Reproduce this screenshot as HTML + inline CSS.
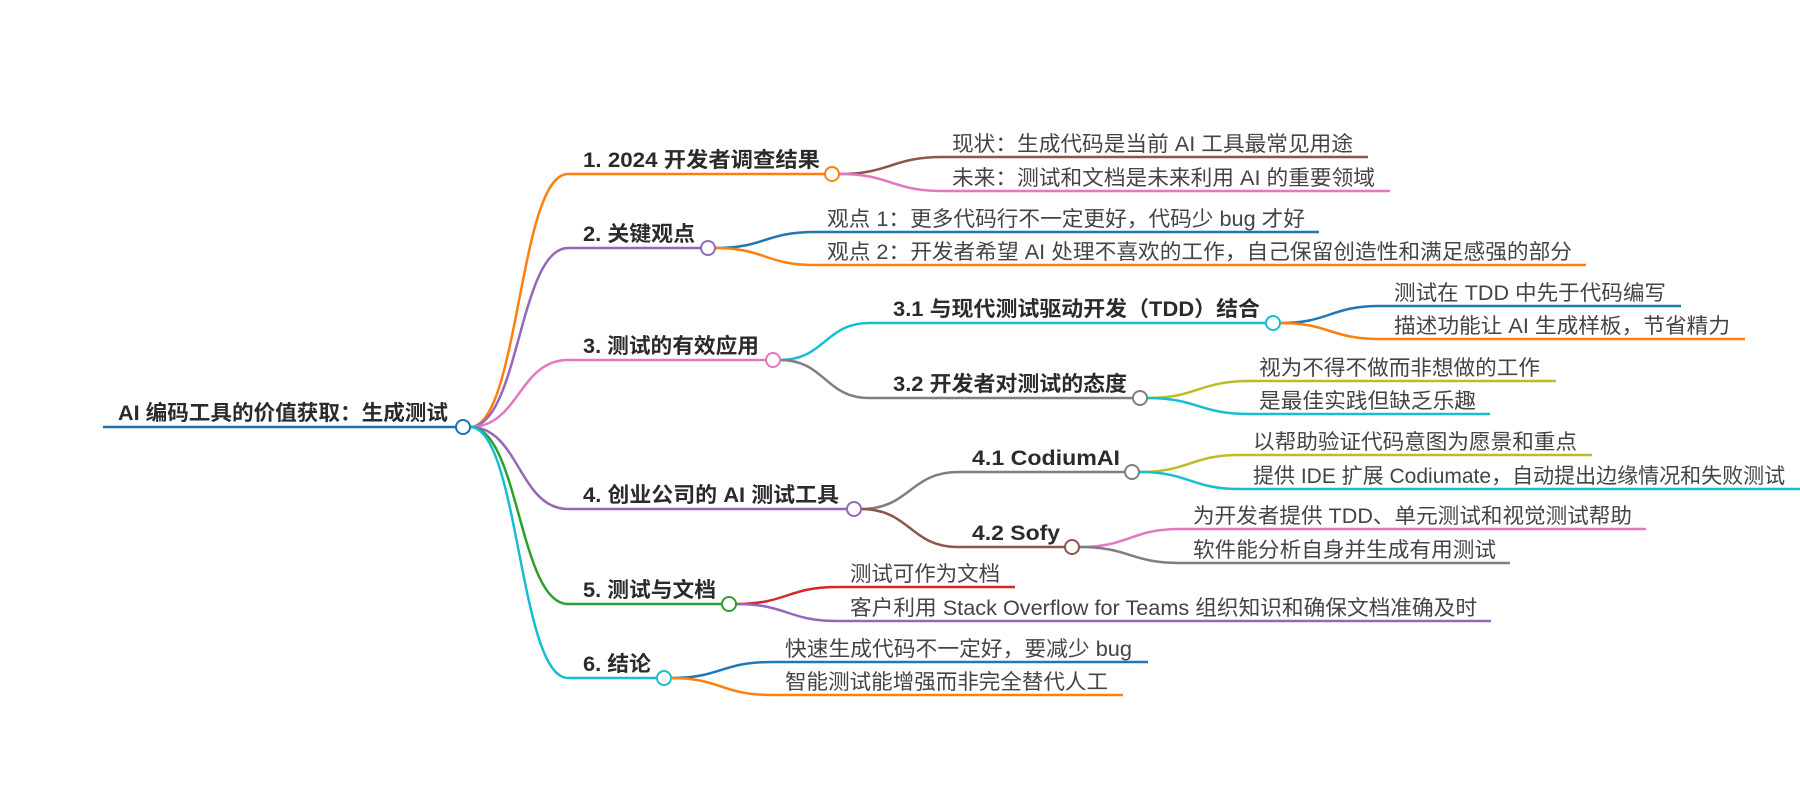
<!DOCTYPE html>
<html><head><meta charset="utf-8"><style>
html,body{margin:0;padding:0;background:#fff;width:1800px;height:800px;overflow:hidden}
svg text{font-family:"Liberation Sans","Noto Sans CJK SC",sans-serif}
.n{font-size:21px;font-weight:bold;fill:#2b2b2b}
.l{font-size:21px;fill:#444}
path{fill:none;stroke-width:2.5}
circle{fill:#fff;stroke-width:2}
</style></head><body>
<svg width="1800" height="800" xmlns="http://www.w3.org/2000/svg">
<!-- root -->
<path d="M103 427 L456 427" stroke="#1f6fb5"/>
<text class="n" x="118" y="420" textLength="330" lengthAdjust="spacingAndGlyphs">AI 编码工具的价值获取：生成测试</text>

<!-- root to nodes -->
<path d="M470 427 C519 427 519 174 568 174 L825 174" stroke="#ff7f0e"/>
<path d="M470 427 C519 427 519 248 568 248 L701 248" stroke="#9467bd"/>
<path d="M470 427 C519 427 519 360 568 360 L766 360" stroke="#e377c2"/>
<path d="M470 427 C519 427 519 509 568 509 L847 509" stroke="#9467bd"/>
<path d="M470 427 C519 427 519 604 568 604 L722 604" stroke="#2ca02c"/>
<path d="M470 427 C519 427 519 678 568 678 L657 678" stroke="#17becf"/>

<text class="n" x="583" y="167" textLength="237" lengthAdjust="spacingAndGlyphs">1. 2024 开发者调查结果</text>
<text class="n" x="583" y="241" textLength="112" lengthAdjust="spacingAndGlyphs">2. 关键观点</text>
<text class="n" x="583" y="353" textLength="176" lengthAdjust="spacingAndGlyphs">3. 测试的有效应用</text>
<text class="n" x="583" y="502" textLength="256" lengthAdjust="spacingAndGlyphs">4. 创业公司的 AI 测试工具</text>
<text class="n" x="583" y="597" textLength="133" lengthAdjust="spacingAndGlyphs">5. 测试与文档</text>
<text class="n" x="583" y="671" textLength="68" lengthAdjust="spacingAndGlyphs">6. 结论</text>

<!-- node1 leaves -->
<path d="M839 174 C891 174 891 157 943 157 L1368 157" stroke="#8c564b"/>
<path d="M839 174 C891 174 891 191 943 191 L1390 191" stroke="#e377c2"/>
<text class="l" x="952" y="151" textLength="401" lengthAdjust="spacingAndGlyphs">现状：生成代码是当前 AI 工具最常见用途</text>
<text class="l" x="952" y="185" textLength="423" lengthAdjust="spacingAndGlyphs">未来：测试和文档是未来利用 AI 的重要领域</text>

<!-- node2 leaves -->
<path d="M715 248 C765 248 765 232 815 232 L1319 232" stroke="#1f77b4"/>
<path d="M715 248 C765 248 765 265 815 265 L1586 265" stroke="#ff7f0e"/>
<text class="l" x="827" y="226" textLength="478" lengthAdjust="spacingAndGlyphs">观点 1：更多代码行不一定更好，代码少 bug 才好</text>
<text class="l" x="827" y="259" textLength="745" lengthAdjust="spacingAndGlyphs">观点 2：开发者希望 AI 处理不喜欢的工作，自己保留创造性和满足感强的部分</text>

<!-- node3 subs -->
<path d="M780 360 C825 360 825 323 869 323 L1266 323" stroke="#17becf"/>
<path d="M780 360 C825 360 825 398 869 398 L1133 398" stroke="#7f7f7f"/>
<text class="n" x="893" y="316" textLength="367" lengthAdjust="spacingAndGlyphs">3.1 与现代测试驱动开发（TDD）结合</text>
<text class="n" x="893" y="391" textLength="234" lengthAdjust="spacingAndGlyphs">3.2 开发者对测试的态度</text>
<path d="M1280 323 C1330 323 1330 306 1380 306 L1681 306" stroke="#1f77b4"/>
<path d="M1280 323 C1330 323 1330 339 1380 339 L1745 339" stroke="#ff7f0e"/>
<text class="l" x="1394" y="300" textLength="272" lengthAdjust="spacingAndGlyphs">测试在 TDD 中先于代码编写</text>
<text class="l" x="1394" y="333" textLength="336" lengthAdjust="spacingAndGlyphs">描述功能让 AI 生成样板，节省精力</text>
<path d="M1147 398 C1198 398 1198 381 1250 381 L1556 381" stroke="#bcbd22"/>
<path d="M1147 398 C1198 398 1198 414 1250 414 L1490 414" stroke="#17becf"/>
<text class="l" x="1259" y="375" textLength="281" lengthAdjust="spacingAndGlyphs">视为不得不做而非想做的工作</text>
<text class="l" x="1259" y="408" textLength="217" lengthAdjust="spacingAndGlyphs">是最佳实践但缺乏乐趣</text>

<!-- node4 subs -->
<path d="M861 509 C910 509 910 472 958 472 L1125 472" stroke="#7f7f7f"/>
<path d="M861 509 C910 509 910 547 958 547 L1065 547" stroke="#8c564b"/>
<text class="n" x="972" y="465" textLength="148" lengthAdjust="spacingAndGlyphs">4.1 CodiumAI</text>
<text class="n" x="972" y="540" textLength="88" lengthAdjust="spacingAndGlyphs">4.2 Sofy</text>
<path d="M1139 472 C1190 472 1190 455 1240 455 L1592 455" stroke="#bcbd22"/>
<path d="M1139 472 C1190 472 1190 489 1240 489 L1800 489" stroke="#17becf"/>
<text class="l" x="1253" y="449" textLength="324" lengthAdjust="spacingAndGlyphs">以帮助验证代码意图为愿景和重点</text>
<text class="l" x="1253" y="483">提供 IDE 扩展 Codiumate，自动提出边缘情况和失败测试</text>
<path d="M1079 547 C1130 547 1130 529 1180 529 L1646 529" stroke="#e377c2"/>
<path d="M1079 547 C1130 547 1130 563 1180 563 L1510 563" stroke="#7f7f7f"/>
<text class="l" x="1193" y="523" textLength="439" lengthAdjust="spacingAndGlyphs">为开发者提供 TDD、单元测试和视觉测试帮助</text>
<text class="l" x="1193" y="557" textLength="303" lengthAdjust="spacingAndGlyphs">软件能分析自身并生成有用测试</text>

<!-- node5 leaves -->
<path d="M736 604 C787 604 787 587 838 587 L1015 587" stroke="#d62728"/>
<path d="M736 604 C787 604 787 621 838 621 L1491 621" stroke="#9467bd"/>
<text class="l" x="850" y="581" textLength="150" lengthAdjust="spacingAndGlyphs">测试可作为文档</text>
<text class="l" x="850" y="615" textLength="627" lengthAdjust="spacingAndGlyphs">客户利用 Stack Overflow for Teams 组织知识和确保文档准确及时</text>

<!-- node6 leaves -->
<path d="M671 678 C721 678 721 662 772 662 L1148 662" stroke="#1f77b4"/>
<path d="M671 678 C721 678 721 695 772 695 L1123 695" stroke="#ff7f0e"/>
<text class="l" x="785" y="656" textLength="347" lengthAdjust="spacingAndGlyphs">快速生成代码不一定好，要减少 bug</text>
<text class="l" x="785" y="689" textLength="323" lengthAdjust="spacingAndGlyphs">智能测试能增强而非完全替代人工</text>

<!-- circles -->
<circle cx="463" cy="427" r="7" stroke="#1f6fb5"/>
<circle cx="832" cy="174" r="7" stroke="#ff7f0e"/>
<circle cx="708" cy="248" r="7" stroke="#9467bd"/>
<circle cx="773" cy="360" r="7" stroke="#e377c2"/>
<circle cx="854" cy="509" r="7" stroke="#9467bd"/>
<circle cx="729" cy="604" r="7" stroke="#2ca02c"/>
<circle cx="664" cy="678" r="7" stroke="#17becf"/>
<circle cx="1273" cy="323" r="7" stroke="#17becf"/>
<circle cx="1140" cy="398" r="7" stroke="#7f7f7f"/>
<circle cx="1132" cy="472" r="7" stroke="#7f7f7f"/>
<circle cx="1072" cy="547" r="7" stroke="#8c564b"/>
</svg>
</body></html>
